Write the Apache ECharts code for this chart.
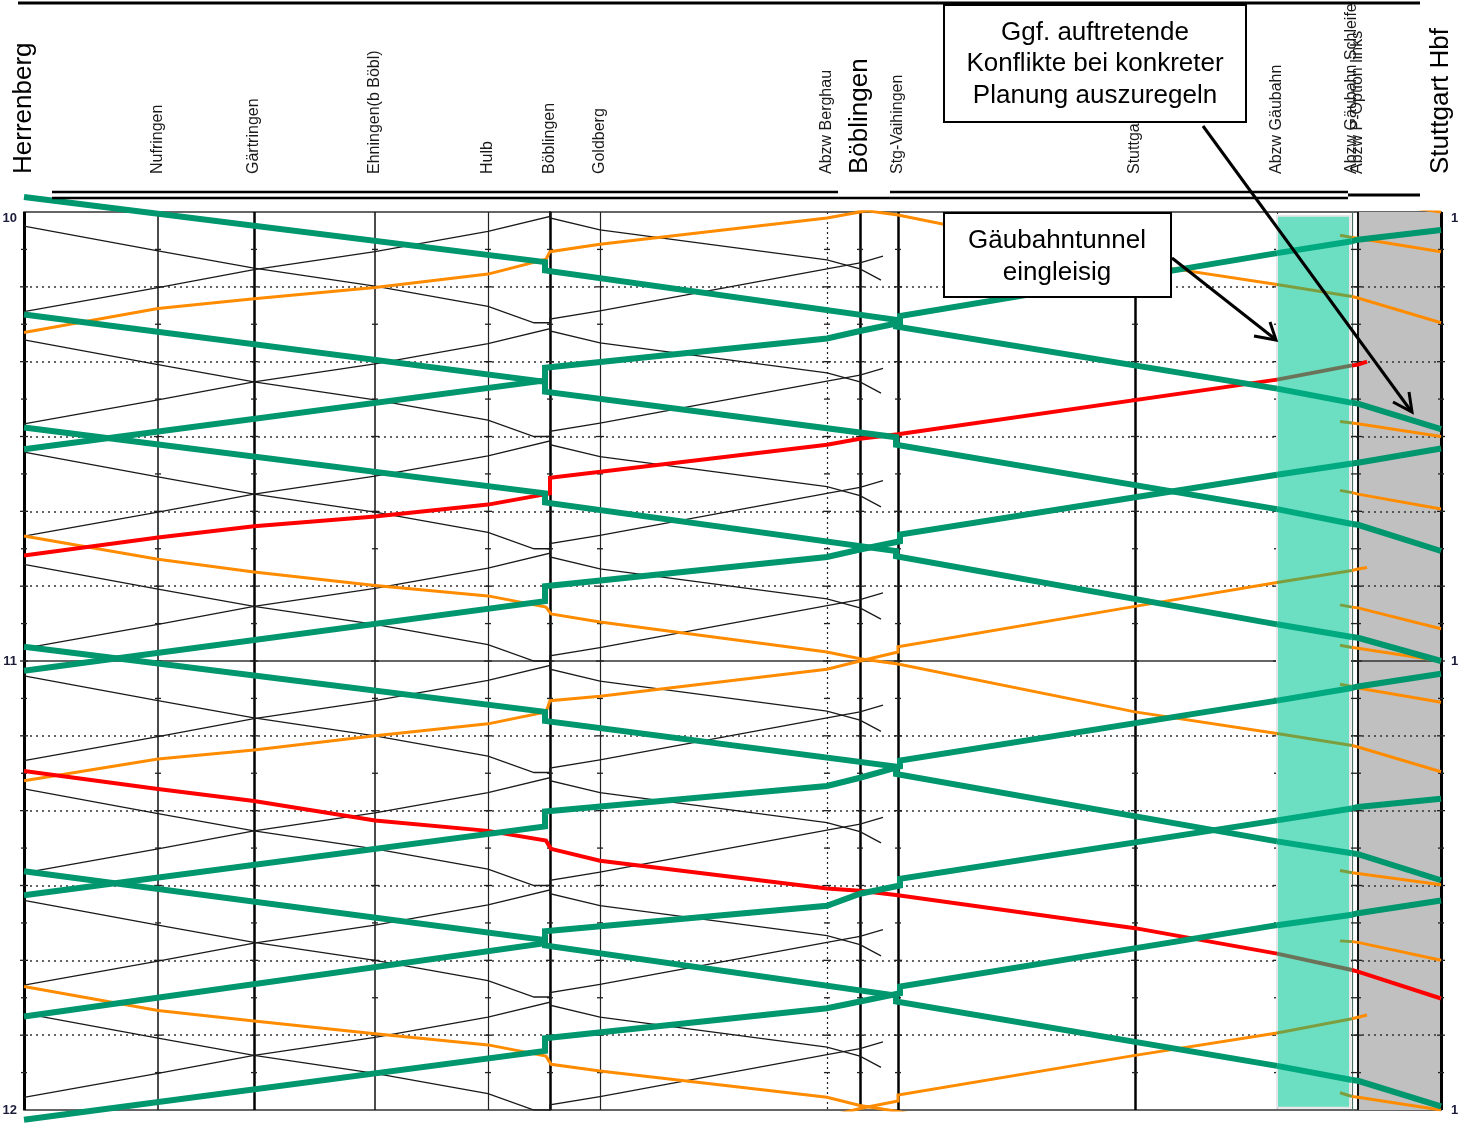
<!DOCTYPE html>
<html><head><meta charset="utf-8">
<script src="https://cdn.jsdelivr.net/npm/echarts@6/dist/echarts.min.js"></script>
<style>html,body{margin:0;padding:0;background:#fff}#c{width:1458px;height:1124px}</style>
</head><body><div id="c"></div>
<script>
// ---------- stations (distance axis) ----------
const stationNames = ['Herrenberg','Nufringen','Gärtringen','Ehningen(b Böbl)','Hulb','Böblingen','Goldberg','Abzw Berghau','Böblingen','Stg-Vaihingen','Stuttgart Nord','Abzw Gäubahn','Abzw Gäubahn Schleife','Abzw P-Option links','Stuttgart Hbf'];
const stationKm    = [0, 2.68, 4.6, 7.02, 9.28, 10.52, 11.52, 16.06, 16.72, 17.48, 22.22, 25.06, 26.56, 26.68, 28.34];
const hourLabels   = ['10','11','12'];
const gridMinutes  = [10,20,30,40,50,70,80,90,100,110];
const hourMinutes  = [60];
const tickMinutes  = [5,15,25,35,45,55,65,75,85,95,105,115,10,20,30,40,50,60,70,80,90,100,110];
const tunnelZone   = [25.06, 26.52];
const grayZone     = [26.66, 28.34];

// ---------- black regional trains ----------
const blackDownKm = [0, 2.68, 4.6, 7.02, 9.28, 10.2, 10.52, 10.52, 11.52, 16.06, 16.72, 17.14];
const blackDownTimes = [
  [-13.2, -9.9, -7.6, -5.2, -2.5, -0.3, -0.3, 0.8, 2.4, 6.4, 7.6, 9.1],
  [1.9, 5.2, 7.5, 9.9, 12.6, 14.8, 14.8, 15.9, 17.5, 21.5, 22.7, 24.2],
  [17.1, 20.4, 22.7, 25.1, 27.8, 30.0, 30.0, 31.1, 32.7, 36.7, 37.9, 39.4],
  [32.1, 35.4, 37.7, 40.1, 42.8, 45.0, 45.0, 46.1, 47.7, 51.7, 52.9, 54.4],
  [47.1, 50.4, 52.7, 55.1, 57.8, 60.0, 60.0, 61.1, 62.7, 66.7, 67.9, 69.4],
  [62.0, 65.3, 67.6, 70.0, 72.7, 74.9, 74.9, 76.0, 77.6, 81.6, 82.8, 84.3],
  [77.1, 80.4, 82.7, 85.1, 87.8, 90.0, 90.0, 91.1, 92.7, 96.7, 97.9, 99.4],
  [92.0, 95.3, 97.6, 100.0, 102.7, 104.9, 104.9, 106.0, 107.6, 111.6, 112.8, 114.3],
  [107.1, 110.4, 112.7, 115.1, 117.8, 120.0, 120.0, 121.1, 122.7, 126.7, 127.9, 129.4]
];
const blackUpKm = [17.18, 16.72, 16.06, 11.52, 10.52, 10.52, 9.28, 7.02, 4.6, 2.68, 0];
const blackUpTimes = [
  [-9.1, -8.2, -7.4, -1.8, -0.7, 0.6, 2.6, 5.3, 7.7, 10.1, 13.3],
  [5.9, 6.8, 7.6, 13.2, 14.3, 15.6, 17.6, 20.3, 22.7, 25.1, 28.3],
  [20.9, 21.8, 22.6, 28.2, 29.3, 30.6, 32.6, 35.3, 37.7, 40.1, 43.3],
  [35.9, 36.8, 37.6, 43.2, 44.3, 45.6, 47.6, 50.3, 52.7, 55.1, 58.3],
  [50.9, 51.8, 52.6, 58.2, 59.3, 60.6, 62.6, 65.3, 67.7, 70.1, 73.3],
  [65.9, 66.8, 67.6, 73.2, 74.3, 75.6, 77.6, 80.3, 82.7, 85.1, 88.3],
  [80.9, 81.8, 82.6, 88.2, 89.3, 90.6, 92.6, 95.3, 97.7, 100.1, 103.3],
  [95.9, 96.8, 97.6, 103.2, 104.3, 105.6, 107.6, 110.3, 112.7, 115.1, 118.3],
  [110.9, 111.8, 112.6, 118.2, 119.3, 120.6, 122.6, 125.3, 127.7, 130.1, 133.3]
];

// ---------- green trains ----------
const greenDownKm = [0, 10.42, 10.42, 17.44, 17.44, 25.06, 26.56, 26.68, 28.34];
const greenDownTimes = [
  [-2.0, 6.7, 7.8, 14.4, 15.3, 23.6, 25.5, 25.6, 29.0],
  [13.7, 22.7, 24.0, 30.1, 31.1, 39.7, 41.7, 41.8, 45.3],
  [28.8, 37.6, 38.8, 45.3, 46.0, 55.1, 56.8, 56.9, 60.0],
  [58.1, 66.8, 68.0, 74.1, 75.1, 84.1, 85.7, 85.8, 89.3],
  [88.1, 97.3, 98.0, 104.7, 105.5, 114.1, 116.0, 116.1, 119.5]
];
const greenUpKm = [28.34, 26.68, 26.56, 25.06, 17.52, 17.52, 16.72, 16.06, 10.42, 10.42, 0];
const greenUpTimes = [
  [2.4, 3.7, 3.9, 5.5, 13.9, 14.8, 15.9, 16.9, 20.8, 22.5, 31.7],
  [31.6, 33.5, 33.6, 35.1, 43.1, 44.0, 45.1, 46.1, 50.0, 52.0, 61.3],
  [61.7, 63.4, 63.6, 65.3, 73.3, 74.1, 75.6, 76.7, 80.1, 82.1, 91.3],
  [78.4, 79.5, 79.7, 81.3, 89.1, 90.0, 91.1, 92.7, 96.1, 97.7, 107.5],
  [92.0, 93.7, 93.9, 95.3, 103.5, 104.4, 105.5, 106.4, 110.4, 112.1, 121.3]
];

// ---------- red trains ----------
const redUpKm = [26.86, 26.68, 26.56, 25.06, 17.48, 16.72, 16.06, 10.52, 10.52, 9.28, 7.02, 4.6, 2.68, 0];
const redUpTimes = [
  [20.0, 20.4, 20.5, 22.4, 29.7, 30.3, 31.1, 35.5, 37.6, 39.1, 40.7, 42.0, 43.5, 45.9]
];
const redDownKm = [0, 2.68, 4.6, 7.02, 9.28, 10.44, 10.54, 11.52, 16.06, 16.72, 17.48, 22.22, 25.06, 26.56, 26.68, 28.34];
const redDownTimes = [
  [74.7, 77.1, 78.7, 81.3, 82.7, 84.0, 85.1, 86.7, 90.4, 90.7, 91.3, 95.7, 99.1, 101.3, 101.5, 105.1]
];

// ---------- orange trains ----------
const orangeDownKm = [0, 2.68, 4.6, 7.02, 9.28, 10.44, 10.54, 11.52, 16.06, 16.72, 17.48, 22.22, 25.06, 26.56, 26.68, 28.34];
const orangeDownTimes = [
  [-16.7, -13.6, -11.9, -10.1, -8.7, -7.2, -6.3, -5.2, -1.2, -0.3, 0.4, 6.8, 9.7, 11.3, 11.5, 14.8],
  [43.3, 46.4, 48.1, 49.9, 51.3, 52.8, 53.7, 54.8, 58.8, 59.7, 60.4, 66.8, 69.7, 71.3, 71.5, 74.8],
  [103.5, 106.7, 108.1, 109.8, 111.3, 112.8, 113.9, 114.8, 118.3, 119.4, 120.2, 126.6, 129.5, 131.1, 131.3, 134.6]
];
const orangeUpKm = [26.86, 26.68, 26.56, 25.06, 22.22, 17.48, 17.48, 16.72, 16.06, 11.52, 10.52, 10.44, 9.28, 7.02, 4.6, 2.68, 0];
const orangeUpTimes = [
  [-12.4, -12.2, -12.0, -10.4, -7.2, -1.8, -1.1, 0.0, 0.8, 4.3, 5.3, 6.3, 8.3, 10.1, 11.6, 12.9, 16.1],
  [47.5, 47.7, 47.9, 49.5, 52.7, 58.1, 58.8, 60.0, 61.1, 64.7, 65.3, 66.8, 68.4, 70.0, 71.9, 73.1, 76.0],
  [107.3, 107.6, 107.8, 109.7, 112.7, 118.0, 118.8, 119.8, 120.9, 124.5, 125.1, 126.6, 128.2, 129.8, 131.7, 132.9, 135.8]
];
const orangeShortKm = [26.32, 26.56, 26.68, 28.34];
const orangeShortTimes = [
  [-1.9, -1.7, -1.6, 0.0],
  [3.1, 3.4, 3.5, 5.3],
  [28.0, 28.2, 28.3, 30.0],
  [37.2, 37.5, 37.7, 39.7],
  [52.5, 52.8, 52.9, 55.7],
  [57.9, 58.2, 58.3, 60.0],
  [63.1, 63.4, 63.6, 65.5],
  [88.0, 88.3, 88.4, 89.9],
  [97.4, 97.5, 97.6, 100.0],
  [117.7, 118.2, 118.3, 120.0]
];

// ---------- styles ----------
const FONT = '"Liberation Sans", Arial, sans-serif';
const majorStationIdx = [0, 8, 14];
const stationLineWidth = [3, 1.5, 2.5, 1.5, 1.2, 2.5, 1.2, 1.2, 2.5, 2.5, 2.5, 1.2, 1.2, 2, 3];
const stationLineType  = ['solid','solid','solid','solid','solid','solid','solid',[2,3],'solid','solid','solid',[2,3],'solid','solid','solid'];
const stationLineColor = ['#000','#111','#000','#111','#222','#000','#222','#222','#000','#000','#000','#333','#4a6f64','#111','#000'];
const COL = {
  green: '#00966e', greenT: '#00aa80',
  orange: '#ff8c00', orangeT: '#7d9e3e',
  red: '#ff0000', redT: '#6b7459',
  black: '#1a1a1a'
};
const tunnelKm = [stationKm[11], stationKm[12]];

// split a train path at its own timetable points into tunnel / non-tunnel runs
function splitRuns(km, times) {
  const pts = km.map((k, i) => [k, times[i]]);
  const inT = p => p[0] >= tunnelKm[0] - 1e-9 && p[0] <= tunnelKm[1] + 1e-9;
  const runs = [];
  let cur = null;
  for (let i = 0; i < pts.length - 1; i++) {
    const t = inT(pts[i]) && inT(pts[i + 1]);
    if (!cur || cur.tunnel !== t) { cur = {tunnel: t, pts: [pts[i]]}; runs.push(cur); }
    cur.pts.push(pts[i + 1]);
  }
  return runs;
}

const series = [];
// gray area (under grid lines)
series.push({type:'line', data:[], z:1, silent:true,
  markArea:{silent:true, z:1, itemStyle:{color:'#c0c0c0'},
    data:[[{xAxis: grayZone[0], yAxis: 0},{xAxis: grayZone[1], yAxis: 120}]]}});
// grid lines + station lines
series.push({type:'line', data:[], z:2, silent:true,
  markLine:{silent:true, z:2, symbol:'none', label:{show:false}, animation:false,
    data: [
      ...gridMinutes.map(m => ({yAxis: m, lineStyle:{color:'#333', width:1.6, type:[2,4]}})),
      ...hourMinutes.map(m => ({yAxis: m, lineStyle:{color:'#333', width:1.6, type:'solid'}})),
      ...stationKm.map((k, i) => ({xAxis: k, lineStyle:{color: stationLineColor[i], width: stationLineWidth[i], type: stationLineType[i]}}))
    ]}});
// small 5-minute ticks on the station lines
const tickData = [];
stationKm.forEach((k, i) => tickMinutes.forEach(m => tickData.push([k, m, i])));
series.push({type:'custom', z:2, silent:true, data: tickData,
  renderItem: (params, api) => {
    const p = api.coord([api.value(0), api.value(1)]);
    const half = api.value(1) % 10 === 0 ? 4 : 3;
    return {type:'line', shape:{x1:p[0]-half, y1:p[1], x2:p[0]+half, y2:p[1]},
      style:{stroke:'#222', lineWidth:1.3}};
  }});
// tunnel area
series.push({type:'line', data:[], z:3, silent:true,
  markArea:{silent:true, z:3, itemStyle:{color:'#6cdfc3', borderColor:'#e6e6e6', borderWidth:2},
    data:[[{xAxis: tunnelZone[0], yAxis: 0.5},{xAxis: tunnelZone[1], yAxis: 119.7}]]}});

function addGroup(km, list, color, tColor, width, z, clip) {
  list.forEach(times => {
    splitRuns(km, times).forEach(run => {
      series.push({type:'line', data: run.pts, showSymbol:false, symbol:'none',
        clip: clip, z: run.tunnel ? z + 10 : z, silent:true,
        lineStyle:{color: run.tunnel ? tColor : color, width: width, cap:'butt', join:'miter'}});
    });
  });
}
addGroup(blackDownKm, blackDownTimes, COL.black, COL.black, 1.3, 4, true);
addGroup(blackUpKm, blackUpTimes, COL.black, COL.black, 1.3, 4, true);
addGroup(orangeDownKm, orangeDownTimes, COL.orange, COL.orangeT, 3, 5, true);
addGroup(orangeUpKm, orangeUpTimes, COL.orange, COL.orangeT, 3, 5, true);
addGroup(orangeShortKm, orangeShortTimes, COL.orange, COL.orangeT, 3, 5, true);
addGroup(redUpKm, redUpTimes, COL.red, COL.redT, 4, 6, true);
addGroup(redDownKm, redDownTimes, COL.red, COL.redT, 4, 6, true);
addGroup(greenDownKm, greenDownTimes, COL.green, COL.greenT, 6, 7, false);
addGroup(greenUpKm, greenUpTimes, COL.green, COL.greenT, 6, 7, false);

const labelRich = {
  big:   {fontSize: 26, fontFamily: FONT, color:'#000'},
  small: {fontSize: 16, fontFamily: FONT, color:'#1a1a1a'}
};

const yAxisBase = {
  type:'value', inverse:true, min:0, max:120, interval:10,
  axisLine:{show:false}, axisTick:{show:false}, splitLine:{show:false},
  axisLabel:{show:true, fontSize:13, fontWeight:'bold', fontFamily: FONT, color:'#1b1b3a',
    verticalAlignMinLabel:'top', verticalAlignMaxLabel:'middle',
    formatter: v => (v % 60 === 0 ? hourLabels[v / 60] : '')}
};

const txt = (text, x, y) => ({type:'text', z:101, style:{text, x, y, fill:'#000', fontSize:26, fontFamily:FONT,
  textAlign:'center', textVerticalAlign:'middle', align:'center', verticalAlign:'middle'}});

const option = {
  animation:false,
  backgroundColor:'#fff',
  textStyle:{fontFamily: FONT},
  grid:{left:24, right:17, top:212, bottom:14, outerBoundsMode:'none', containLabel:false,
    show:true, borderColor:'#333', borderWidth:1.5, backgroundColor:'transparent'},
  xAxis:{type:'value', min:0, max:28.34, position:'top', offset:32,
    axisLine:{show:false}, axisTick:{show:false}, splitLine:{show:false},
    axisLabel:{customValues: stationKm, rotate:90, margin:6, showMinLabel:true, showMaxLabel:true, hideOverlap:false,
      formatter: v => {
        const i = stationKm.indexOf(v);
        if (i < 0) return '';
        return (majorStationIdx.indexOf(i) >= 0 ? '{big|' : '{small|') + stationNames[i] + '}';
      },
      rich: labelRich}},
  yAxis:[
    Object.assign({}, yAxisBase, {position:'left', axisLabel:Object.assign({}, yAxisBase.axisLabel, {margin:7})}),
    Object.assign({}, yAxisBase, {position:'right', axisLabel:Object.assign({}, yAxisBase.axisLabel, {margin:10})})
  ],
  series: series,
  graphic:[
    {type:'line', z:100, shape:{x1:18,y1:3,x2:1420,y2:3}, style:{stroke:'#000', lineWidth:3}},
    {type:'line', z:100, shape:{x1:52,y1:192,x2:838,y2:192}, style:{stroke:'#000', lineWidth:2.5}},
    {type:'line', z:100, shape:{x1:890,y1:192,x2:1348,y2:192}, style:{stroke:'#000', lineWidth:2.5}},
    {type:'line', z:100, shape:{x1:52,y1:198,x2:1348,y2:198}, style:{stroke:'#000', lineWidth:2.5}},
    {type:'line', z:100, shape:{x1:1348,y1:195,x2:1420,y2:195}, style:{stroke:'#000', lineWidth:3}},
    {type:'rect', z:100, shape:{x:944,y:5,width:302,height:117}, style:{fill:'#fff', stroke:'#000', lineWidth:2}},
    txt('Ggf. auftretende', 1095, 33),
    txt('Konflikte bei konkreter', 1095, 64),
    txt('Planung auszuregeln', 1095, 96),
    {type:'rect', z:100, shape:{x:944,y:213,width:227,height:84}, style:{fill:'#fff', stroke:'#000', lineWidth:2}},
    txt('Gäubahntunnel', 1057, 241),
    txt('eingleisig', 1057, 273),
    {type:'line', z:102, shape:{x1:1203,y1:126,x2:1411,y2:411}, style:{stroke:'#000', lineWidth:3}},
    {type:'polyline', z:102, shape:{points:[[1393,402],[1412,412],[1409,392]]}, style:{stroke:'#000', lineWidth:3, fill:null}},
    {type:'line', z:102, shape:{x1:1172,y1:258,x2:1275,y2:339}, style:{stroke:'#000', lineWidth:3}},
    {type:'polyline', z:102, shape:{points:[[1254,336],[1276,340],[1270,322]]}, style:{stroke:'#000', lineWidth:3, fill:null}}
  ]
};

const chart = echarts.init(document.getElementById('c'), null, {renderer:'canvas'});
chart.setOption(option);
</script></body></html>
